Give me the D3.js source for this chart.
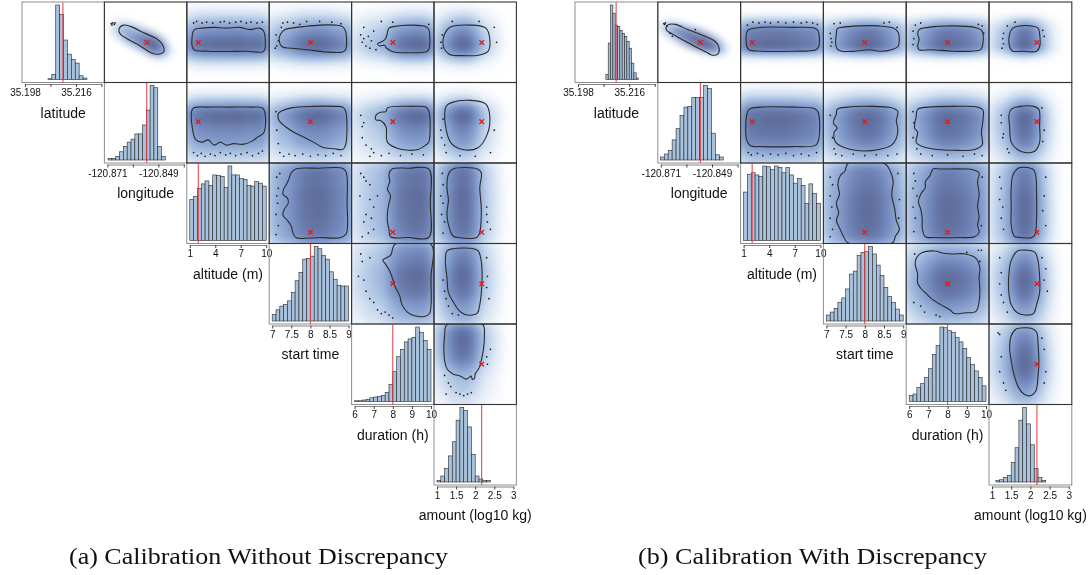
<!DOCTYPE html>
<html>
<head>
<meta charset="utf-8">
<script src="https://cdn.jsdelivr.net/npm/d3@7"></script>
<style>
  body { margin: 0; background: #fff; }
  #wrap { position: relative; width: 1091px; height: 575px; }
  #wrap canvas, #wrap svg { position: absolute; left: 0; top: 0; }
</style>
</head>
<body>
<div id="wrap">
  <canvas id="dens" width="1091" height="575"></canvas>
  <svg id="chart" width="1091" height="575"></svg>
</div>
<script>
// ---------------- data ----------------
var varNames = ["latitude", "longitude", "altitude (m)", "start time", "duration (h)", "amount (log10 kg)"];
var varDomains = [[35.198, 35.225], [-120.871, -120.838], [1, 10], [7, 9], [6, 10], [1, 3]];
var varTicks = [[35.198, 35.207, 35.216, 35.225], [-120.871, -120.860, -120.849, -120.838],
                [1, 4, 7, 10], [7, 7.5, 8, 8.5, 9], [6, 7, 8, 9, 10], [1, 1.5, 2, 2.5, 3]];
var varTickLabels = [["35.198", "", "35.216", ""], ["-120.871", "", "-120.849", ""],
                     ["1", "4", "7", "10"], ["7", "7.5", "8", "8.5", "9"], ["6", "7", "8", "9", "10"],
                     ["1", "1.5", "2", "2.5", "3"]];
var trueValues = [35.2114, -120.854, 2, 8, 8, 2.17];

// histograms: first bin edge, bin width, bar heights (tallest bar = 100)
var leftBinStart = [35.2061, -120.8707, 1, 7, 6, 1];
var leftBinWidth = [0.00138, 0.00165, 0.45, 0.1, 0.2, 0.1];
var leftCounts = [
  [1, 7, 100, 87, 53, 34, 27, 22, 5, 2],
  [2, 2, 5, 11, 18, 24, 28, 35, 35, 47, 67, 100, 97, 18, 5],
  [55, 59, 70, 76, 80, 74, 88, 87, 86, 71, 100, 88, 88, 83, 82, 74, 73, 79, 77, 73],
  [9, 15, 20, 22, 27, 38, 54, 65, 83, 84, 87, 100, 97, 88, 83, 66, 56, 48, 47, 47],
  [1, 1, 2, 3, 5, 6, 7, 8, 12, 23, 40, 60, 70, 80, 84, 86, 100, 93, 82, 70],
  [2, 8, 18, 35, 54, 83, 100, 96, 74, 37, 8, 4, 2, 2]
];
var rightBinStart = [35.2078, -120.8712, 1, 7, 6, 1.1];
var rightBinWidth = [0.00082, 0.00169, 0.45, 0.1, 0.2, 0.1];
var rightCounts = [
  [7, 49, 100, 89, 73, 71, 66, 62, 58, 51, 42, 22, 9, 2],
  [4, 8, 13, 27, 42, 60, 71, 72, 84, 84, 84, 100, 96, 36, 7, 4],
  [65, 89, 91, 88, 86, 100, 99, 95, 100, 98, 91, 98, 88, 77, 83, 74, 50, 76, 63, 50],
  [8, 12, 17, 25, 31, 43, 63, 67, 88, 92, 93, 100, 90, 75, 61, 45, 33, 25, 16, 8],
  [8, 10, 19, 24, 32, 44, 63, 75, 100, 99, 95, 93, 86, 80, 71, 59, 50, 41, 32, 21],
  [2, 3, 6, 9, 26, 46, 83, 100, 78, 50, 18, 6, 2]
];

// off-diagonal cells: [row variable (y), column variable (x)]
var cellPairs = [[0, 1], [0, 2], [0, 3], [0, 4], [0, 5], [1, 2], [1, 3], [1, 4], [1, 5],
                 [2, 3], [2, 4], [2, 5], [3, 4], [3, 5], [4, 5]];

// contour lines, as fractions of each axis range [x, y]
var leftContours = [
  [[.15,.67],[.21,.73],[.31,.71],[.47,.63],[.64,.55],[.72,.47],[.74,.38],[.67,.34],[.57,.36],[.43,.45],[.27,.54],[.17,.61]],
  [[.04,.63],[.06,.67],[.16,.69],[.32,.70],[.48,.69],[.65,.70],[.79,.67],[.91,.69],[.96,.66],[.98,.61],[.98,.40],[.95,.37],[.73,.38],[.48,.375],[.24,.38],[.06,.395],[.03,.45],[.03,.57]],
  [[.11,.61],[.17,.67],[.25,.69],[.41,.71],[.62,.73],[.82,.73],[.92,.71],[.96,.65],[.96,.40],[.92,.37],[.70,.37],[.46,.40],[.25,.42],[.13,.44],[.09,.53]],
  [[.42,.59],[.45,.69],[.51,.71],[.75,.73],[.93,.71],[.97,.67],[.97,.40],[.93,.37],[.71,.36],[.51,.37],[.42,.42],[.39,.46],[.33,.45],[.30,.48],[.34,.50],[.40,.54]],
  [[.10,.61],[.17,.70],[.44,.73],[.64,.69],[.69,.55],[.67,.38],[.56,.33],[.32,.32],[.16,.34],[.085,.44]],
  [[.04,.69],[.24,.71],[.52,.71],[.81,.71],[.96,.69],[.97,.37],[.89,.31],[.81,.25],[.69,.21],[.57,.22],[.48,.20],[.40,.24],[.32,.20],[.24,.27],[.16,.24],[.08,.27],[.04,.39]],
  [[.08,.62],[.13,.66],[.25,.70],[.54,.72],[.82,.72],[.92,.71],[.96,.66],[.96,.20],[.92,.14],[.82,.15],[.66,.17],[.54,.24],[.41,.31],[.29,.37],[.17,.45],[.09,.53]],
  [[.41,.65],[.43,.70],[.75,.72],[.93,.71],[.97,.66],[.97,.24],[.93,.20],[.83,.14],[.71,.13],[.55,.16],[.43,.24],[.41,.45],[.34,.53],[.28,.54],[.28,.60],[.34,.64]],
  [[.12,.72],[.19,.77],[.44,.80],[.64,.75],[.69,.60],[.66,.35],[.53,.16],[.34,.14],[.19,.22],[.11,.47]],
  [[.31,.96],[.25,.91],[.22,.83],[.19,.76],[.15,.69],[.14,.62],[.20,.57],[.21,.50],[.16,.42],[.14,.34],[.20,.27],[.25,.19],[.27,.11],[.31,.04],[.62,.04],[.90,.04],[.97,.09],[.98,.50],[.97,.91],[.92,.97],[.62,.97]],
  [[.49,.96],[.45,.89],[.46,.79],[.43,.69],[.47,.60],[.45,.50],[.43,.37],[.43,.25],[.45,.15],[.47,.05],[.71,.04],[.97,.04],[.99,.50],[.97,.96],[.71,.97]],
  [[.21,.96],[.15,.89],[.13,.71],[.15,.54],[.13,.37],[.15,.21],[.21,.06],[.28,.04],[.52,.04],[.56,.11],[.58,.42],[.56,.71],[.58,.91],[.53,.96]],
  [[.53,1.03],[.47,.88],[.37,.82],[.40,.77],[.45,.69],[.49,.59],[.53,.46],[.59,.34],[.62,.22],[.69,.12],[.79,.07],[.91,.06],[.98,.10],[1.0,.59],[1.0,1.03]],
  [[.13,.94],[.21,.97],[.48,.97],[.54,.94],[.58,.80],[.59,.59],[.58,.38],[.56,.22],[.53,.11],[.46,.08],[.36,.09],[.28,.15],[.21,.26],[.15,.38],[.13,.59],[.11,.80]],
  [[.13,1.03],[.10,.88],[.09,.72],[.10,.55],[.13,.44],[.21,.37],[.31,.34],[.38,.30],[.45,.34],[.46,.30],[.49,.31],[.50,.37],[.55,.45],[.58,.55],[.61,.72],[.62,.88],[.60,1.03]]
];
var rightContours = [
  [[.09,.73],[.19,.74],[.35,.67],[.55,.59],[.71,.51],[.76,.42],[.74,.34],[.66,.33],[.59,.37],[.43,.45],[.27,.54],[.15,.61],[.07,.67]],
  [[.07,.67],[.23,.70],[.64,.70],[.92,.69],[.97,.65],[.98,.45],[.94,.40],[.64,.38],[.23,.38],[.07,.40],[.04,.45],[.04,.63]],
  [[.14,.68],[.20,.70],[.44,.72],[.68,.72],[.87,.69],[.93,.64],[.95,.53],[.93,.44],[.85,.40],[.70,.38],[.56,.40],[.36,.38],[.20,.38],[.14,.41],[.12,.49],[.13,.61]],
  [[.13,.67],[.25,.70],[.57,.72],[.85,.70],[.95,.65],[.96,.49],[.93,.40],[.81,.38],[.57,.38],[.29,.40],[.13,.40],[.11,.45],[.13,.54],[.11,.61]],
  [[.27,.69],[.37,.72],[.50,.72],[.60,.69],[.62,.61],[.62,.44],[.58,.38],[.37,.38],[.27,.38],[.23,.44],[.23,.61]],
  [[.07,.68],[.23,.71],[.64,.71],[.92,.69],[.97,.64],[.98,.29],[.94,.20],[.64,.18],[.23,.18],[.09,.19],[.04,.27],[.04,.60]],
  [[.14,.68],[.28,.71],[.56,.72],[.85,.70],[.93,.65],[.91,.53],[.93,.41],[.91,.29],[.85,.20],[.68,.14],[.48,.12],[.32,.14],[.20,.18],[.12,.24],[.10,.37],[.14,.43],[.09,.50],[.13,.62]],
  [[.11,.68],[.25,.71],[.57,.72],[.89,.71],[.96,.67],[.96,.53],[.94,.37],[.95,.20],[.85,.14],[.57,.13],[.37,.14],[.17,.18],[.09,.24],[.11,.37],[.07,.43],[.09,.58]],
  [[.25,.68],[.37,.72],[.54,.72],[.61,.68],[.62,.45],[.62,.24],[.56,.12],[.43,.10],[.33,.14],[.25,.24],[.23,.45],[.22,.60]],
  [[.28,1.03],[.24,.93],[.18,.87],[.15,.75],[.17,.62],[.13,.50],[.16,.37],[.13,.27],[.17,.17],[.22,.06],[.28,-.03],[.86,-.03],[.90,.06],[.95,.15],[.91,.27],[.89,.42],[.85,.62],[.87,.79],[.84,.91],[.76,1.03]],
  [[.31,.96],[.27,.87],[.21,.79],[.21,.71],[.15,.62],[.12,.52],[.15,.42],[.17,.29],[.17,.17],[.21,.05],[.33,.04],[.65,.04],[.85,.05],[.91,.11],[.89,.21],[.91,.31],[.89,.46],[.91,.62],[.89,.79],[.91,.91],[.83,.95],[.73,.96],[.41,.96]],
  [[.34,.97],[.27,.87],[.25,.70],[.25,.42],[.25,.21],[.29,.06],[.37,.04],[.52,.04],[.56,.08],[.58,.29],[.58,.62],[.57,.87],[.54,.95],[.45,.98]],
  [[.09,.84],[.17,.92],[.33,.94],[.45,.91],[.57,.90],[.73,.90],[.87,.84],[.92,.71],[.91,.59],[.92,.42],[.91,.26],[.87,.13],[.73,.11],[.59,.10],[.53,.15],[.41,.22],[.29,.30],[.21,.38],[.15,.44],[.11,.51],[.11,.63],[.08,.75]],
  [[.33,.94],[.45,.95],[.56,.92],[.60,.80],[.62,.59],[.62,.38],[.58,.22],[.54,.10],[.43,.08],[.33,.11],[.25,.22],[.22,.38],[.22,.63],[.25,.81]],
  [[.31,.97],[.25,.88],[.23,.72],[.25,.55],[.29,.35],[.35,.18],[.43,.09],[.51,.08],[.57,.14],[.60,.35],[.61,.55],[.60,.76],[.58,.93],[.52,.98],[.42,.99]]
];

// low-density sample points outside the contours, fractions of axis range
var leftDots = [
  [[.05,.75],[.07,.76],[.09,.74],[.10,.76],[.06,.73]],
  [[.05,.76],[.09,.78],[.16,.76],[.22,.77],[.30,.76],[.40,.77],[.45,.78],[.52,.76],[.60,.77],[.67,.78],[.74,.76],[.80,.77],[.88,.76],[.95,.77]],
  [[.05,.60],[.06,.45],[.08,.52],[.12,.70],[.14,.76],[.20,.77],[.28,.76],[.36,.74],[.45,.78],[.62,.78],[.78,.77],[.90,.75],[.04,.42]],
  [[.08,.60],[.10,.50],[.12,.55],[.15,.45],[.18,.58],[.20,.42],[.22,.52],[.25,.65],[.28,.40],[.12,.70],[.35,.78],[.50,.77],[.97,.74]],
  [[.05,.50],[.06,.42],[.07,.60],[.75,.70],[.78,.50],[.20,.78],[.55,.78]],
  [[.05,.10],[.10,.06],[.15,.09],[.20,.05],[.27,.08],[.33,.06],[.40,.10],[.47,.07],[.53,.09],[.60,.06],[.67,.08],[.75,.10],[.82,.06],[.90,.09],[.95,.12]],
  [[.05,.65],[.08,.22],[.10,.10],[.15,.05],[.22,.08],[.30,.06],[.40,.08],[.50,.05],[.60,.07],[.70,.06],[.80,.09],[.90,.06],[.06,.40]],
  [[.08,.60],[.10,.45],[.12,.50],[.10,.30],[.15,.20],[.22,.15],[.25,.10],[.20,.05],[.35,.06],[.45,.09],[.60,.06],[.75,.08],[.90,.07]],
  [[.05,.40],[.06,.30],[.08,.55],[.10,.20],[.12,.10],[.30,.06],[.50,.05],[.70,.10],[.75,.40]],
  [[.06,.85],[.08,.70],[.06,.60],[.07,.50],[.05,.35],[.08,.20],[.05,.08],[.10,.90]],
  [[.08,.90],[.12,.85],[.15,.80],[.20,.75],[.07,.60],[.20,.55],[.25,.45],[.15,.35],[.22,.30],[.12,.25],[.25,.15],[.18,.10],[.10,.05],[.30,.60]],
  [[.07,.90],[.08,.75],[.05,.60],[.08,.50],[.06,.35],[.10,.25],[.08,.10],[.65,.35],[.66,.25],[.65,.45],[.70,.15]],
  [[.08,.90],[.10,.80],[.05,.60],[.12,.55],[.15,.40],[.20,.30],[.25,.25],[.30,.15],[.35,.10],[.45,.08],[.50,.04],[.40,.12],[.20,.85]],
  [[.08,.55],[.10,.40],[.12,.30],[.15,.20],[.20,.10],[.28,.08],[.65,.85],[.66,.60],[.65,.45],[.68,.30]],
  [[.10,.35],[.15,.25],[.18,.20],[.25,.12],[.30,.10],[.35,.08],[.40,.10],[.45,.12],[.12,.10],[.65,.60],[.66,.50],[.70,.70]]
];
var rightDots = [
  [[.04,.75],[.05,.74],[.06,.76],[.08,.72],[.12,.62],[.15,.58],[.45,.67]],
  [[.05,.73],[.12,.77],[.20,.76],[.28,.77],[.35,.76],[.45,.77],[.55,.76],[.65,.77],[.75,.76],[.82,.77],[.90,.76],[.96,.74]],
  [[.05,.62],[.06,.55],[.07,.50],[.06,.45],[.10,.75],[.18,.76],[.75,.76],[.82,.77],[.92,.70]],
  [[.05,.65],[.06,.55],[.05,.47],[.08,.73],[.15,.76],[.90,.74],[.95,.72],[.97,.62]],
  [[.15,.62],[.14,.55],[.15,.48],[.13,.42],[.20,.72],[.30,.77],[.66,.66],[.68,.58]],
  [[.06,.10],[.10,.07],[.18,.09],[.25,.06],[.35,.08],[.45,.07],[.55,.09],[.65,.06],[.75,.08],[.85,.06],[.95,.10]],
  [[.05,.60],[.08,.30],[.10,.15],[.12,.08],[.20,.06],[.35,.08],[.50,.06],[.65,.07],[.80,.06],[.92,.08]],
  [[.05,.65],[.06,.50],[.05,.30],[.10,.15],[.15,.08],[.30,.06],[.50,.07],[.70,.05],[.85,.08],[.95,.06]],
  [[.12,.60],[.12,.50],[.15,.35],[.14,.30],[.20,.15],[.22,.10],[.65,.70],[.68,.40],[.66,.25]],
  [[.05,.85],[.08,.75],[.05,.60],[.07,.45],[.05,.30],[.08,.15],[.05,.05],[.93,.90],[.95,.55],[.94,.30]],
  [[.06,.90],[.08,.80],[.05,.70],[.10,.60],[.05,.45],[.08,.30],[.06,.12],[.95,.85],[.94,.20]],
  [[.10,.85],[.12,.70],[.10,.55],[.14,.45],[.12,.30],[.15,.15],[.70,.85],[.68,.60],[.66,.40],[.70,.20]],
  [[.07,.90],[.94,.95],[.92,.80],[.06,.25],[.15,.20],[.20,.12],[.35,.08],[.40,.06],[.75,.92],[.90,.95]],
  [[.10,.85],[.12,.65],[.10,.50],[.12,.35],[.15,.25],[.20,.12],[.65,.85],[.70,.70],[.68,.55],[.72,.40]],
  [[.08,.92],[.10,.90],[.12,.60],[.10,.40],[.15,.25],[.18,.15],[.65,.85],[.68,.70],[.70,.40],[.68,.25]]
];

var captions = ["(a) Calibration Without Discrepancy", "(b) Calibration With Discrepancy"];

// ---------------- layout ----------------
var FONT = "'Liberation Sans', Arial, Helvetica, sans-serif";
var top0 = 2, cellH = 80.5, pad = 3, gamma = 0.32;
var panels = [
  {left: 22, cellW: 82.4, binStart: leftBinStart, binWidth: leftBinWidth, counts: leftCounts,
   contours: leftContours, dots: leftDots, caption: captions[0], captionX: 258.5, captionW: 379},
  {left: 575, cellW: 82.8, binStart: rightBinStart, binWidth: rightBinWidth, counts: rightCounts,
   contours: rightContours, dots: rightDots, caption: captions[1], captionX: 812.5, captionW: 349}
];

var svg = d3.select("#chart");
var ctx = document.getElementById("dens").getContext("2d");
ctx.fillStyle = "#fff";
ctx.fillRect(0, 0, 1091, 575);

// colour ramp for the smoothed densities
var ramp = d3.interpolateRgbBasis(["#ffffff", "#d5e2f2", "#a9c1e2", "#8aa3d0", "#7186bb", "#5f6e9c"]);
var lut = d3.range(256).map(function(k) { return d3.rgb(ramp(k / 255)); });

// smoothed marginal from a histogram (gaussian kernel over bin centres)
function marginal(start, width, counts) {
  var bw = width * 1.4;
  var f = function(t) {
    var s = 0;
    counts.forEach(function(c, b) {
      var z = (t - (start + (b + 0.5) * width)) / bw;
      s += c * Math.exp(-0.5 * z * z);
    });
    return s;
  };
  var lo = start - 4 * bw, hi = start + counts.length * width + 4 * bw;
  var mx = d3.max(d3.range(301), function(q) { return f(lo + (hi - lo) * q / 300); });
  return function(t) { return f(t) / mx; };
}

function frac(k, u) {
  var d = varDomains[k];
  return d[0] + u * (d[1] - d[0]);
}

// paints one density cell on the canvas; maskPts (optional) shapes it
function drawDensity(box, sx, sy, mx, my, maskPts) {
  var x0 = Math.round(box.x0), y0 = Math.round(box.y0);
  var w = Math.round(box.x1) - x0, h = Math.round(box.y1) - y0;
  var fx = d3.range(w).map(function(c) { return mx(sx.invert(x0 + c + 0.5)); });
  var gy = d3.range(h).map(function(r) { return my(sy.invert(y0 + r + 0.5)); });
  var alpha = null;
  if (maskPts) {
    var off = document.createElement("canvas");
    off.width = w; off.height = h;
    var octx = off.getContext("2d");
    var cx = d3.mean(maskPts, function(d) { return d[0]; }), cy = d3.mean(maskPts, function(d) { return d[1]; });
    octx.filter = "blur(5px)";
    octx.beginPath();
    maskPts.forEach(function(pt, k) {
      var px = cx + (pt[0] - cx) * 1.45 - x0, py = cy + (pt[1] - cy) * 1.45 - y0;
      if (k) octx.lineTo(px, py); else octx.moveTo(px, py);
    });
    octx.closePath();
    octx.fillStyle = "#000";
    octx.fill();
    alpha = octx.getImageData(0, 0, w, h).data;
  }
  var img = ctx.createImageData(w, h);
  for (var r = 0; r < h; r++) {
    for (var c = 0; c < w; c++) {
      var v = Math.min(1, fx[c] * gy[r]);
      var col = lut[Math.round(255 * Math.pow(v, gamma))];
      var a = alpha ? alpha[(r * w + c) * 4 + 3] / 255 : 1;
      var q = (r * w + c) * 4;
      img.data[q] = 255 + (col.r - 255) * a;
      img.data[q + 1] = 255 + (col.g - 255) * a;
      img.data[q + 2] = 255 + (col.b - 255) * a;
      img.data[q + 3] = 255;
    }
  }
  ctx.putImageData(img, x0, y0);
}

var contourLine = d3.line().curve(d3.curveCatmullRomClosed.alpha(0.5));

panels.forEach(function(p, pi) {
  var xs = varDomains.map(function(d, k) {
    return d3.scaleLinear().domain(d).range([p.left + k * p.cellW + pad, p.left + (k + 1) * p.cellW - pad]);
  });
  var ys = varDomains.map(function(d, k) {
    return d3.scaleLinear().domain(d).range([top0 + (k + 1) * cellH - pad, top0 + k * cellH + pad]);
  });
  var marg = varDomains.map(function(d, k) { return marginal(p.binStart[k], p.binWidth[k], p.counts[k]); });
  var g = svg.append("g");

  // ---- diagonal: histograms ----
  varNames.forEach(function(name, k) {
    var x0 = p.left + k * p.cellW, y0 = top0 + k * cellH, y1 = y0 + cellH;
    var hy = d3.scaleLinear().domain([0, 100]).range([y1 - pad, y0 + pad]);
    var bins = p.counts[k].map(function(c, b) {
      return {a: p.binStart[k] + b * p.binWidth[k], b: p.binStart[k] + (b + 1) * p.binWidth[k], c: c};
    });

    g.append("rect")
        .attr("x", x0).attr("y", y0).attr("width", p.cellW).attr("height", cellH)
        .attr("fill", "none").attr("stroke", "#8e8e8e").attr("stroke-width", 1);

    g.append("g").selectAll("rect").data(bins).enter().append("rect")
        .attr("x", function(d) { return xs[k](d.a); })
        .attr("width", function(d) { return xs[k](d.b) - xs[k](d.a); })
        .attr("y", function(d) { return hy(d.c); })
        .attr("height", function(d) { return hy(0) - hy(d.c); })
        .attr("fill", "#a8c2dd")
        .attr("stroke", "#262626")
        .attr("stroke-width", 0.6);

    // true value
    g.append("line")
        .attr("x1", xs[k](trueValues[k])).attr("x2", xs[k](trueValues[k]))
        .attr("y1", y0 + 0.5).attr("y2", y1)
        .attr("stroke", "#e8393c").attr("stroke-width", 1);

    // x axis
    var ax = g.append("g")
        .attr("transform", "translate(0," + (y1 + 1.5) + ")")
        .call(d3.axisBottom(xs[k])
            .tickValues(varTicks[k])
            .tickFormat(function(d, i) { return varTickLabels[k][i]; })
            .tickSize(3)
            .tickSizeOuter(0)
            .tickPadding(2));
    ax.select(".domain").attr("stroke", "#666").attr("stroke-width", 0.8);
    ax.selectAll(".tick line").attr("stroke", "#444");
    ax.selectAll(".tick text")
        .attr("font-family", FONT).attr("font-size", "10px").attr("fill", "#111");

    g.append("text")
        .attr("x", x0 + p.cellW / 2).attr("y", y1 + 35)
        .attr("text-anchor", "middle")
        .attr("font-family", FONT).attr("font-size", "14px").attr("fill", "#111")
        .text(name);
  });

  // ---- upper triangle: smoothed scatter plots ----
  cellPairs.forEach(function(pair, c) {
    var i = pair[0], j = pair[1];
    var box = {x0: p.left + j * p.cellW, x1: p.left + (j + 1) * p.cellW, y0: top0 + i * cellH, y1: top0 + (i + 1) * cellH};
    var toPx = function(pt) { return [xs[j](frac(j, pt[0])), ys[i](frac(i, pt[1]))]; };
    var contourPx = p.contours[c].map(toPx);

    drawDensity(box, xs[j], ys[i], marg[j], marg[i], (i === 0 && j === 1) ? contourPx : null);

    var clipId = "clip" + pi + "_" + i + "_" + j;
    g.append("clipPath").attr("id", clipId).append("rect")
        .attr("x", box.x0).attr("y", box.y0)
        .attr("width", box.x1 - box.x0).attr("height", box.y1 - box.y0);

    var cg = g.append("g").attr("clip-path", "url(#" + clipId + ")");
    cg.append("path")
        .attr("d", contourLine(contourPx))
        .attr("fill", "none").attr("stroke", "#2b2b2b").attr("stroke-width", 1.1);

    cg.selectAll("circle").data(p.dots[c].map(toPx)).enter().append("circle")
        .attr("cx", function(d) { return d[0]; })
        .attr("cy", function(d) { return d[1]; })
        .attr("r", 0.85).attr("fill", "#1a1a1a");

    var tx = xs[j](trueValues[j]), ty = ys[i](trueValues[i]);
    cg.append("path")
        .attr("d", "M" + (tx - 2.3) + "," + (ty - 2.3) + "L" + (tx + 2.3) + "," + (ty + 2.3) +
                   "M" + (tx - 2.3) + "," + (ty + 2.3) + "L" + (tx + 2.3) + "," + (ty - 2.3))
        .attr("stroke", "#e41a1c").attr("stroke-width", 1.3);

    g.append("rect")
        .attr("x", box.x0).attr("y", box.y0)
        .attr("width", box.x1 - box.x0).attr("height", box.y1 - box.y0)
        .attr("fill", "none").attr("stroke", "#333").attr("stroke-width", 1.1);
  });

  // caption under the panel
  svg.append("text")
      .attr("x", p.captionX).attr("y", 564)
      .attr("text-anchor", "middle")
      .attr("font-family", "'Liberation Serif', 'DejaVu Serif', serif")
      .attr("font-size", "23px").attr("fill", "#111")
      .attr("textLength", p.captionW).attr("lengthAdjust", "spacingAndGlyphs")
      .text(p.caption);
});
</script>
</body>
</html>
